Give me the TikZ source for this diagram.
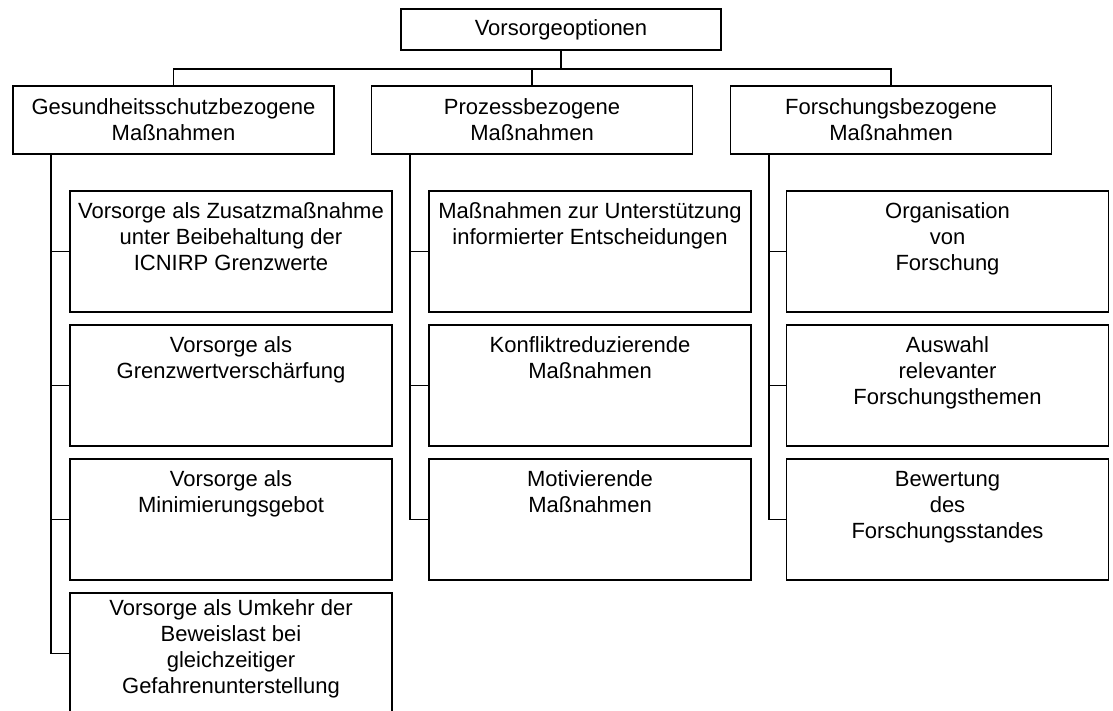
\documentclass[tikz,border=0pt]{standalone}
\usepackage{fontspec}
\setmainfont{Liberation Sans}
\usetikzlibrary{calc}
\begin{document}
\begin{tikzpicture}[x=1pt,y=-1pt,line width=1.6pt,
  every node/.style={font=\fontsize{22}{26}\selectfont},
  topbox/.style={draw,rectangle,inner sep=0pt,minimum width=320pt,minimum height=41pt,align=center},
  headbox/.style={draw,rectangle,inner sep=0pt,minimum width=321pt,minimum height=68pt,align=center},
  childbox/.style={draw,rectangle,inner sep=0pt,minimum width=322pt,minimum height=121pt},
  childtxt/.style={anchor=north,inner sep=0pt,align=center},
  conn/.style={line width=1.6pt}]
\clip (0,0) rectangle (1113,711);
\fill[white] (0,0) rectangle (1113,711);

% root
\node[topbox] (root) at (561,29.5) {Vorsorgeoptionen};

% level 1
\node[headbox] (g0) at (173.5,120) {Gesundheitsschutzbezogene\\Maßnahmen};
\node[headbox] (p0) at (532,120) {Prozessbezogene\\Maßnahmen};
\node[headbox] (f0) at (891,120) {Forschungsbezogene\\Maßnahmen};

% children boxes
\foreach \n/\x in {g/231,p/590,f/947.5}{
  \node[childbox] (\n1) at (\x,251.5) {};
  \node[childbox] (\n2) at (\x,385.5) {};
  \node[childbox] (\n3) at (\x,519.5) {};
}
\node[childbox] (g4) at (231,653.5) {};

% texts
\node[childtxt] (g1t) at ($(g1.north)+(0,12)$) {Vorsorge als Zusatzmaßnahme\\unter Beibehaltung der\\ICNIRP Grenzwerte};
\node[childtxt] (g2t) at ($(g2.north)+(0,12)$) {Vorsorge als\\Grenzwertverschärfung};
\node[childtxt] (g3t) at ($(g3.north)+(0,12)$) {Vorsorge als\\Minimierungsgebot};
\node[childtxt] (g4t) at ($(g4.north)+(0,7)$) {Vorsorge als Umkehr der\\Beweislast bei\\gleichzeitiger\\Gefahrenunterstellung};
\node[childtxt] (p1t) at ($(p1.north)+(0,12)$) {Maßnahmen zur Unterstützung\\informierter Entscheidungen};
\node[childtxt] (p2t) at ($(p2.north)+(0,12)$) {Konfliktreduzierende\\Maßnahmen};
\node[childtxt] (p3t) at ($(p3.north)+(0,12)$) {Motivierende\\Maßnahmen};
\node[childtxt] (f1t) at ($(f1.north)+(0,12)$) {Organisation\\von\\Forschung};
\node[childtxt] (f2t) at ($(f2.north)+(0,12)$) {Auswahl\\relevanter\\Forschungsthemen};
\node[childtxt] (f3t) at ($(f3.north)+(0,12)$) {Bewertung\\des\\Forschungsstandes};

% root connectors
\coordinate (bar) at ($(root.south)+(0,18)$);
\draw[conn] (root.south) -- (bar) -| (g0.north);
\draw[conn] (bar) -| (p0.north);
\draw[conn] (bar) -| (f0.north);

% level-1 spines
\coordinate (gs) at ($(g0.south west)+(39,0)$);
\coordinate (ps) at ($(p0.south west)+(39,0)$);
\coordinate (fs) at ($(f0.south west)+(39,0)$);
\draw[conn] (gs) |- (g4.west);
\draw[conn] (ps) |- (p3.west);
\draw[conn] (fs) |- (f3.west);
\foreach \n in {1,2,3}{
  \draw[conn] (gs |- g\n.west) -- (g\n.west);
  \draw[conn] (ps |- p\n.west) -- (p\n.west);
  \draw[conn] (fs |- f\n.west) -- (f\n.west);
}
\end{tikzpicture}
\end{document}
